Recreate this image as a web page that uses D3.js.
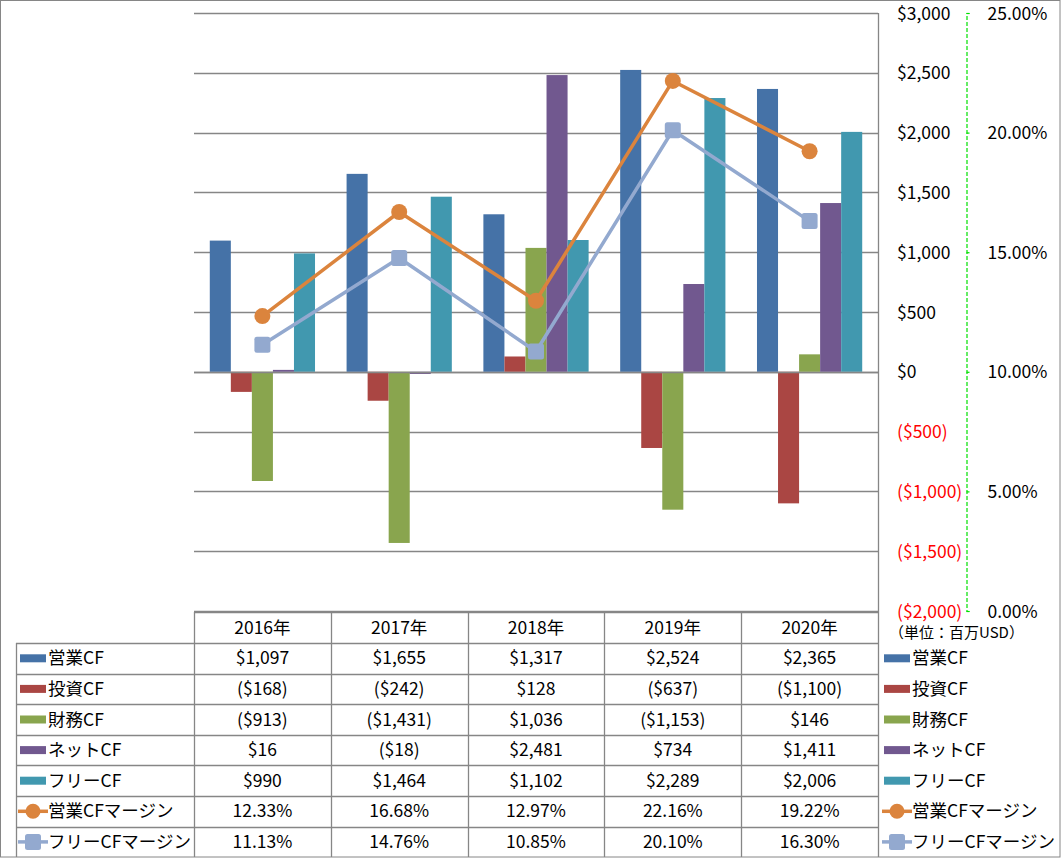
<!DOCTYPE html>
<html><head><meta charset="utf-8">
<script src="https://cdn.jsdelivr.net/npm/d3@7"></script>
<style>
html,body{margin:0;padding:0;background:#fff;}
svg{display:block;font-family:"Noto Sans CJK JP","Noto Sans",sans-serif;}
</style></head><body>
<svg id="c" width="1061" height="858"></svg>
<script>
const years = ["2016年","2017年","2018年","2019年","2020年"];
const barSeries = ["営業CF","投資CF","財務CF","ネットCF","フリーCF"];
const eigyoCF = [1097,1655,1317,2524,2365];
const toushiCF = [-168,-242,128,-637,-1100];
const zaimuCF = [-913,-1431,1036,-1153,146];
const netCF = [16,-18,2481,734,1411];
const freeCF = [990,1464,1102,2289,2006];
const lineSeries = ["営業CFマージン","フリーCFマージン"];
const eigyoMargin = [12.33,16.68,12.97,22.16,19.22];
const freeMargin = [11.13,14.76,10.85,20.10,16.30];
const leftTicks = [-2000,-1500,-1000,-500,0,500,1000,1500,2000,2500,3000];
const rightTicks = [0,5,10,15,20,25];
const unitLabel = "（単位：百万USD）";

const barColors = ["#4572A7","#AA4643","#89A54E","#71588F","#4198AF"];
const lineColors = ["#DB843D","#93A9CF"];
const barData = [eigyoCF,toushiCF,zaimuCF,netCF,freeCF];
const lineData = [eigyoMargin,freeMargin];

const FS = 17.5;
const svg = d3.select("#c");
const L = 194, R = 878, T = 13, B = 611;
const grid = "#868686";

// frame
svg.append("rect").attr("x",0.5).attr("y",0.5).attr("width",1059.5).attr("height",856.5)
  .attr("fill","none").attr("stroke",grid).attr("stroke-width",1);

const x = d3.scaleBand().domain(years).range([L,R]).padding(0);
const step = x.bandwidth();
const gap = step*0.75/6.5;
const xs = d3.scaleBand().domain(barSeries).range([gap, step-gap]).padding(0);
const y = d3.scaleLinear().domain([-2000,3000]).range([B,T]);
const y2 = d3.scaleLinear().domain([0,25]).range([B,T]);

// gridlines
svg.append("g").selectAll("line").data(leftTicks).join("line")
  .attr("x1",L).attr("x2",R).attr("y1",d=>Math.round(y(d))+0.5).attr("y2",d=>Math.round(y(d))+0.5)
  .attr("stroke",grid).attr("stroke-width",1.3);

// bars
barSeries.forEach((s,i)=>{
  svg.append("g").selectAll("rect").data(barData[i]).join("rect")
    .attr("x",(d,j)=>x(years[j])+xs(s))
    .attr("width",xs.bandwidth())
    .attr("y",d=>y(Math.max(0,d)))
    .attr("height",d=>Math.abs(y(d)-y(0)))
    .attr("fill",barColors[i]);
});
// zero line on top
svg.append("line").attr("x1",L).attr("x2",R).attr("y1",Math.round(y(0))+0.5).attr("y2",Math.round(y(0))+0.5)
  .attr("stroke",grid).attr("stroke-width",1.3);

// lines
const cx = j => x(years[j]) + step/2;
lineData.forEach((arr,i)=>{
  const line = d3.line().x((d,j)=>cx(j)).y(d=>y2(d));
  svg.append("path").datum(arr).attr("d",line).attr("fill","none")
    .attr("stroke",lineColors[i]).attr("stroke-width",3.5).attr("stroke-linejoin","round");
  const g = svg.append("g");
  if(i===0){
    g.selectAll("circle").data(arr).join("circle")
      .attr("cx",(d,j)=>cx(j)).attr("cy",d=>y2(d)).attr("r",8).attr("fill",lineColors[i]);
  } else {
    g.selectAll("rect").data(arr).join("rect")
      .attr("x",(d,j)=>cx(j)-8).attr("y",d=>y2(d)-8).attr("width",16).attr("height",16)
      .attr("rx",2.5).attr("fill",lineColors[i]);
  }
});

// primary axis vertical line
svg.append("line").attr("x1",R+0.5).attr("x2",R+0.5).attr("y1",T).attr("y2",857).attr("stroke",grid).attr("stroke-width",1.3);

// left value axis (labels on the right side)
const fmtD = v => v<0 ? "($"+d3.format(",")(-v)+")" : "$"+d3.format(",")(v);
const ax1 = svg.append("g").attr("transform",`translate(${R},0)`)
  .call(d3.axisRight(y).tickValues(leftTicks).tickFormat(fmtD).tickSize(0).tickPadding(19));
ax1.select(".domain").remove();
ax1.selectAll("text").attr("font-size",FS).attr("font-family",'"Noto Sans CJK JP",sans-serif')
  .attr("fill",d=>d<0?"#FF0000":"#000").attr("dy","0.35em");

// secondary axis
const fmtP = v => d3.format(".2f")(v)+"%";
const ax2 = svg.append("g").attr("transform",`translate(966.5,0)`)
  .call(d3.axisRight(y2).tickValues(rightTicks).tickFormat(fmtP).tickSize(3).tickSizeOuter(3).tickPadding(18));
ax2.select(".domain").attr("stroke","#00E000").attr("stroke-width",1.2).attr("stroke-dasharray","4,2");
ax2.selectAll(".tick line").attr("stroke","#00E000").attr("stroke-width",1.2);
ax2.selectAll("text").attr("font-size",FS).attr("font-family",'"Noto Sans CJK JP",sans-serif')
  .attr("fill","#000").attr("dy","0.35em");

// unit label
svg.append("text").attr("x",889).attr("y",633).attr("dy","0.35em").attr("font-size",15)
  .text(unitLabel);

// data table
const rowTop = 643, rowH = 30.6;
const tbl = svg.append("g");
tbl.append("line").attr("x1",L).attr("x2",R).attr("y1",612.5).attr("y2",612.5).attr("stroke",grid).attr("stroke-width",1.3);
years.forEach((yr,j)=>{
  const xx = Math.round(x(yr))+0.5;
  tbl.append("line").attr("x1",xx).attr("x2",xx).attr("y1",612).attr("y2",857).attr("stroke",grid).attr("stroke-width",1.3);
});
tbl.append("line").attr("x1",16.5).attr("x2",16.5).attr("y1",rowTop).attr("y2",857).attr("stroke",grid).attr("stroke-width",1.3);
for(let r=0;r<7;r++){
  const yy = Math.round(rowTop + r*rowH)+0.5;
  tbl.append("line").attr("x1",16).attr("x2",R).attr("y1",yy).attr("y2",yy).attr("stroke",grid).attr("stroke-width",1.3);
}
tbl.selectAll("text.hdr").data(years).join("text").attr("class","hdr")
  .attr("x",d=>x(d)+step/2).attr("y",628).attr("dy","0.35em").attr("text-anchor","middle")
  .attr("font-size",FS).text(d=>d);

const allNames = barSeries.concat(lineSeries);
const allData = barData.concat(lineData);
function drawKey(g, k, kx, cyy){
  if(k<5){
    g.append("rect").attr("x",kx).attr("y",cyy-4).attr("width",26).attr("height",8).attr("fill",barColors[k]);
  } else {
    const c = lineColors[k-5];
    g.append("line").attr("x1",kx-2).attr("x2",kx+28).attr("y1",cyy).attr("y2",cyy).attr("stroke",c).attr("stroke-width",3.5);
    if(k===5) g.append("circle").attr("cx",kx+13).attr("cy",cyy).attr("r",7.5).attr("fill",c);
    else g.append("rect").attr("x",kx+5).attr("y",cyy-8).attr("width",16).attr("height",16).attr("rx",2.5).attr("fill",c);
  }
}
allNames.forEach((nm,k)=>{
  const cyy = rowTop + k*rowH + rowH/2;
  drawKey(tbl,k,20,cyy);
  tbl.append("text").attr("x",48).attr("y",cyy).attr("dy","0.35em").attr("font-size",FS).text(nm);
  drawKey(tbl,k,884,cyy);
  tbl.append("text").attr("x",912).attr("y",cyy).attr("dy","0.35em").attr("font-size",FS).text(nm);
  allData[k].forEach((v,j)=>{
    tbl.append("text").attr("x",x(years[j])+step/2).attr("y",cyy).attr("dy","0.35em")
      .attr("text-anchor","middle").attr("font-size",FS).text(k<5?fmtD(v):fmtP(v));
  });
});
</script>
</body></html>
